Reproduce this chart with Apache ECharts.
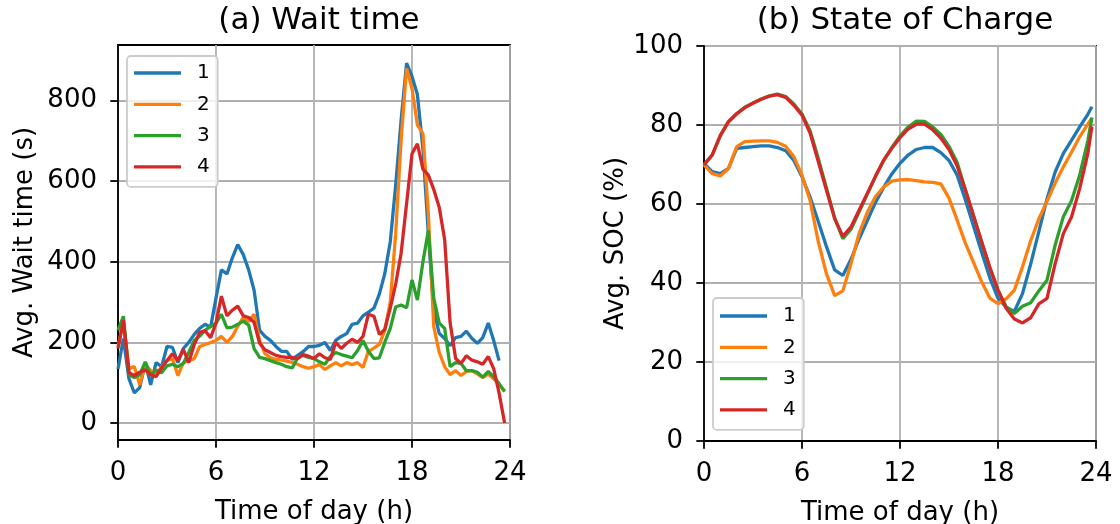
<!DOCTYPE html>
<html><head><meta charset="utf-8">
<script src="https://cdn.jsdelivr.net/npm/echarts@6/dist/echarts.min.js"></script>
<style>html,body{margin:0;padding:0;background:#fff}#c{width:1120px;height:524px}</style>
</head><body><div id="c"></div>
<script>
// ---------- data ----------
const seriesNames = ['1', '2', '3', '4'];
const hourTicks = [0, 6, 12, 18, 24];
const waitTicks = [0, 200, 400, 600, 800];
const socTicks = [0, 20, 40, 60, 80, 100];

const waitHours = [0,0.33,0.67,1,1.33,1.67,2,2.33,2.67,3,3.33,3.67,4,4.33,4.67,5,5.33,5.67,
  6,6.33,6.67,7,7.33,7.67,8,8.33,8.67,9,9.33,9.67,10,10.33,10.67,11,11.33,11.67,
  12,12.33,12.67,13,13.33,13.67,14,14.33,14.67,15,15.33,15.67,16,16.33,16.67,17,17.33,17.67,
  18,18.33,18.67,19,19.33,19.67,20,20.33,20.67,21,21.33,21.67,22,22.33,22.67,23,23.33,23.67];

const wait1 = [134,210,110,75,88,150,95,150,140,190,188,150,
  185,200,220,235,245,238,310,380,370,410,443,418,
  380,330,230,215,205,190,178,178,158,168,177,190,
  190,193,200,180,205,215,222,245,248,266,275,285,
  320,370,450,590,750,893,860,815,680,470,280,222,
  210,192,212,215,228,210,198,212,248,205,155,null];
const wait2 = [190,250,135,140,95,145,130,120,140,155,160,118,
  150,155,160,190,195,200,205,215,200,215,240,262,
  252,270,205,172,162,158,156,154,150,146,140,136,
  140,145,133,142,150,142,150,145,150,138,178,186,
  195,230,300,470,700,880,830,740,718,520,240,175,
  140,120,130,118,128,130,122,113,122,110,95,80];
const wait3 = [230,265,120,113,120,152,118,132,125,142,146,140,
  148,175,205,216,230,240,248,270,236,238,245,253,
  243,185,163,160,155,150,146,140,137,162,168,163,
  160,152,146,165,175,170,166,162,180,205,178,160,
  162,200,235,288,293,286,355,305,400,478,310,248,
  235,140,150,148,130,130,126,114,128,115,98,78];
const wait4 = [185,255,125,118,126,132,120,115,137,155,172,155,
  183,150,195,225,229,212,248,315,266,280,290,266,
  262,250,198,182,175,168,165,163,163,160,170,166,
  160,172,162,158,200,185,198,208,200,215,270,265,
  220,232,285,345,420,545,668,693,630,615,580,535,
  455,250,160,148,167,156,152,146,165,135,75,0];

const socHours = [0,0.5,1,1.5,2,2.5,3,3.5,4,4.5,5,5.5,6,6.5,7,7.5,8,8.5,9,9.5,10,10.5,11,11.5,
  12,12.5,13,13.5,14,14.5,15,15.5,16,16.5,17,17.5,18,18.5,19,19.5,20,20.5,21,21.5,22,22.5,23,23.5,23.75];

const soc1 = [70.3,68.2,67.7,69.0,74.1,74.3,74.5,74.7,74.7,74.3,73.5,71.0,66.9,61.7,55.5,49.2,43.3,41.9,46.0,51.2,55.8,60.4,64.2,67.6,
  70.3,72.4,73.8,74.3,74.3,73.0,71.0,67.3,61.1,54.4,47.8,41.3,36.1,33.9,32.8,37.3,44.8,53.0,61.3,68.1,72.8,76.1,79.5,82.7,84.6];
const soc2 = [69.9,67.7,67.1,69.0,74.5,75.8,75.9,76.0,76.0,75.6,74.6,72.0,67.3,60.8,50.4,42.3,36.8,38.0,44.9,52.6,57.9,61.9,64.3,65.8,
  66.1,66.2,65.9,65.6,65.5,65.1,61.5,55.9,50.1,45.2,40.3,36.2,34.8,36.0,38.2,44.1,50.7,56.2,60.7,65.3,69.4,73.1,77.0,80.2,81.8];
const soc3 = [69.9,72.4,77.3,80.9,82.9,84.5,85.6,86.6,87.4,87.8,87.2,85.3,82.8,78.5,71.5,64.0,56.5,51.2,53.6,58.0,62.5,67.0,71.0,74.3,
  77.2,79.5,81.0,80.9,79.5,77.6,74.6,70.5,63.6,57.0,50.4,43.9,38.2,34.0,32.3,34.1,35.0,38.0,40.7,49.6,56.8,60.8,67.3,76.0,81.9];
const soc4 = [69.9,72.4,77.4,80.8,82.8,84.4,85.5,86.5,87.3,87.7,87.0,85.0,82.5,77.9,70.7,63.5,56.3,51.8,54.2,58.5,62.7,67.0,71.1,74.1,
  76.8,79.0,80.2,80.2,78.8,76.7,73.8,69.6,63.6,57.0,50.4,43.9,38.2,33.6,30.9,29.9,31.2,34.7,36.1,44.9,52.5,56.7,63.9,72.8,79.6];

// ---------- style ----------
const FONT = 'DejaVu Sans';
const colors = ['#1f77b4', '#ff7f0e', '#2ca02c', '#d62728'];
const LW = 1.8;

function pairs(xs, ys) { return xs.map((x, i) => [x, ys[i]]); }

function xAxisCfg(gridIndex) {
  return {
    gridIndex, type: 'value', min: 0, max: 24, interval: 6,
    name: 'Time of day (h)', nameLocation: 'middle', nameGap: 59,
    nameTextStyle: { fontSize: 26, fontFamily: FONT, color: '#000' },
    axisLine: { show: true, onZero: false, lineStyle: { color: '#000', width: LW } },
    axisTick: { show: true, length: 7.7, lineStyle: { color: '#000', width: LW } },
    axisLabel: { fontSize: 26, fontFamily: FONT, color: '#000', margin: 20,
      customValues: hourTicks },
    splitLine: { show: true, lineStyle: { color: '#b0b0b0', width: LW } }
  };
}
function yAxisCfg(gridIndex, min, max, ticks, name, gap) {
  return {
    gridIndex, type: 'value', min, max,
    name, nameLocation: 'middle', nameGap: gap,
    nameTextStyle: { fontSize: 26, fontFamily: FONT, color: '#000' },
    axisLine: { show: true, onZero: false, lineStyle: { color: '#000', width: LW } },
    axisTick: { show: true, length: 7.7, lineStyle: { color: '#000', width: LW }, customValues: ticks },
    axisLabel: { fontSize: 26, fontFamily: FONT, color: '#000', margin: 21, customValues: ticks },
    splitLine: { show: true, lineStyle: { color: '#b0b0b0', width: LW } }
  };
}
function legendCfg(left, top, pad) {
  return {
    data: seriesNames, orient: 'vertical', left, top, icon: 'rect',
    itemWidth: 47, itemHeight: 3.3, itemGap: 11.3, padding: pad,
    backgroundColor: 'rgba(255,255,255,0.8)', borderColor: '#cccccc', borderWidth: LW, borderRadius: 4,
    textStyle: { fontSize: 20, fontFamily: FONT, color: '#000', lineHeight: 20, padding: [0, 0, 0, 11] },
    selectedMode: false
  };
}

const waitData = [wait1, wait2, wait3, wait4];
const socData = [soc1, soc2, soc3, soc4];
const series = [];
waitData.forEach((d, k) => series.push({
  name: seriesNames[k], type: 'line', xAxisIndex: 0, yAxisIndex: 0,
  data: pairs(waitHours, d), symbol: 'none', showSymbol: false,
  lineStyle: { width: 3.3, color: colors[k] }, itemStyle: { color: colors[k] }, z: 2 + k
}));
socData.forEach((d, k) => series.push({
  name: seriesNames[k], type: 'line', xAxisIndex: 1, yAxisIndex: 1,
  data: pairs(socHours, d), symbol: 'none', showSymbol: false,
  lineStyle: { width: 3.3, color: colors[k] }, itemStyle: { color: colors[k] }, z: 2 + k
}));

const chart = echarts.init(document.getElementById('c'), null, { renderer: 'canvas' });
chart.setOption({
  animation: false,
  backgroundColor: '#fff',
  title: [
    { text: '(a) Wait time', left: 314, textAlign: 'center', top: 0,
      textStyle: { fontSize: 31, fontWeight: 'normal', fontFamily: FONT, color: '#000' } },
    { text: '(b) State of Charge', left: 900, textAlign: 'center', top: 0,
      textStyle: { fontSize: 31, fontWeight: 'normal', fontFamily: FONT, color: '#000' } }
  ],
  grid: [
    { left: 118, top: 45, width: 392, height: 395, show: true, borderColor: '#000', borderWidth: LW,
      backgroundColor: 'transparent', containLabel: false, outerBoundsMode: 'none' },
    { left: 704, top: 46, width: 392, height: 395, show: true, borderColor: '#000', borderWidth: LW,
      backgroundColor: 'transparent', containLabel: false, outerBoundsMode: 'none' }
  ],
  xAxis: [xAxisCfg(0), xAxisCfg(1)],
  yAxis: [
    yAxisCfg(0, -42, 938, waitTicks, 'Avg. Wait time (s)', 80),
    yAxisCfg(1, 0, 100, socTicks, 'Avg. SOC (%)', 70)
  ],
  legend: [legendCfg(127, 56, [7, 8, 10, 7]), legendCfg(713, 298, [8, 8, 10, 7])],
  series
});
</script></body></html>
